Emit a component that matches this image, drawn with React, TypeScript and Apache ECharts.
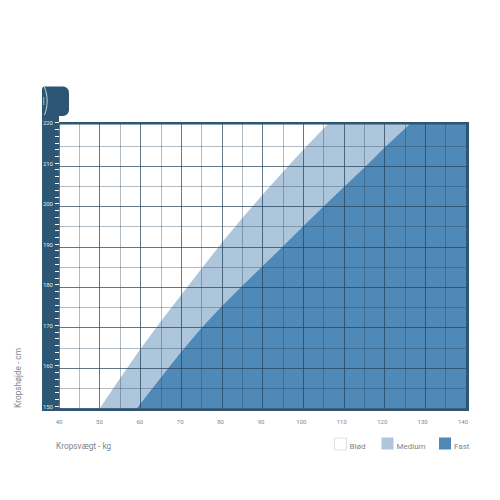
import React, { useEffect, useRef } from "react";
import * as echarts from "echarts";

const softName = "Blød";
const mediumName = "Medium";
const firmName = "Fast";
const xAxisTitle = "Kropsvægt - kg";
const yAxisTitle = "Kropshøjde - cm";

const softArea: number[][] = [[40, 220.65], [140, 220.65]];
const mediumEdge: number[][] = [
  [50, 150], [55, 157.5], [60, 164.7], [65, 171.5], [70, 178.1], [75, 184.6], [80, 191],
  [85, 197.1], [90, 202.9], [95, 208.5], [100, 214], [106.3, 220.65], [140, 220.65],
];
const firmEdge: number[][] = [
  [59.1, 150], [65, 157.6], [70, 164], [75, 169.9], [80, 175.3], [85, 180.3], [90, 185.2],
  [95, 190.1], [100, 195.1], [105, 200], [110, 204.8], [115, 209.6], [120, 214.6],
  [126.5, 220.65], [140, 220.65],
];

const DARK = "#2c5674";
const MEDIUM = "#aec6dc";
const FIRM = "#4f89b8";
const TEXT = "#7f868c";
const MAJOR = "rgba(38,66,90,0.72)";
const MINOR = "rgba(38,66,90,0.36)";

const xLineColors = [MAJOR, MINOR];
const yLineColors = [
  MAJOR, MINOR, MAJOR, MINOR, MAJOR, MINOR, MAJOR, MINOR, MAJOR, MINOR, MAJOR, MINOR, MAJOR, MINOR,
  "rgba(0,0,0,0)", "rgba(0,0,0,0)",
];

function legendAt(name: string, color: string, left: number, border?: string) {
  return {
    left,
    top: 437.5,
    padding: 0,
    itemWidth: 12,
    itemHeight: 12,
    selectedMode: false,
    formatter: "{t|{name}}",
    textStyle: {
      padding: [0, 0, 0, -2],
      rich: {
        t: { color: TEXT, fontSize: 8, fontFamily: "Roboto", lineHeight: 13, verticalAlign: "bottom" },
      },
    },
    data: [{
      name,
      icon: "rect",
      itemStyle: { color, borderColor: border ?? color, borderWidth: border ? 1 : 0 },
    }],
  };
}

function areaSeries(name: string, data: number[][], color: string, z: number) {
  return {
    name,
    type: "line",
    xAxisIndex: 0,
    yAxisIndex: 0,
    data,
    z,
    symbol: "none",
    silent: true,
    lineStyle: { width: 0 },
    itemStyle: { color },
    areaStyle: { color, opacity: 1, origin: "start" },
  };
}

export default function App() {
  const ref = useRef<HTMLDivElement>(null);
  useEffect(() => {
    const chart = echarts.init(ref.current!, undefined, { renderer: "svg" });
    chart.setOption({
      animation: false,
      backgroundColor: "#ffffff",
      grid: [
        { left: 59, right: 34, top: 123, bottom: 91.5 },
        { left: 59, right: 37, top: 122.5, bottom: 94 },
      ],
      xAxis: [
        {
          type: "value", gridIndex: 0, min: 40, max: 140, interval: 5, z: 5,
          axisLine: { show: false }, axisTick: { show: false }, axisLabel: { show: false },
          splitLine: { show: true, lineStyle: { color: xLineColors, width: 1 } },
        },
        {
          type: "value", gridIndex: 1, min: 40, max: 140, interval: 10, z: 10,
          axisLine: { show: false }, axisTick: { show: false }, splitLine: { show: false },
          axisLabel: { color: TEXT, fontSize: 6, fontFamily: "Roboto", margin: 12 },
        },
      ],
      yAxis: [
        {
          type: "value", gridIndex: 0, min: 150, max: 220.65, interval: 5, z: 5,
          axisLine: { show: false }, axisTick: { show: false }, axisLabel: { show: false },
          splitLine: { show: true, lineStyle: { color: yLineColors, width: 1 } },
        },
        {
          type: "value", gridIndex: 1, min: 150, max: 220, interval: 10, z: 10,
          axisLine: { show: false }, splitLine: { show: false },
          axisTick: { show: true, length: 4, lineStyle: { color: "#ffffff", width: 1 } },
          minorTick: { show: true, splitNumber: 6, length: 4, lineStyle: { color: "#ffffff", width: 1 } },
          axisLabel: { color: "#dfe8ee", fontSize: 6, fontFamily: "Roboto", margin: 6 },
        },
      ],
      legend: [
        legendAt(softName, "#ffffff", 334, "#dde1e4"),
        legendAt(mediumName, MEDIUM, 381.5),
        legendAt(firmName, FIRM, 439),
      ],
      series: [
        areaSeries(softName, softArea, "#ffffff", 1),
        areaSeries(mediumName, mediumEdge, MEDIUM, 2),
        areaSeries(firmName, firmEdge, FIRM, 3),
      ],
      graphic: [
        { type: "rect", z: 6, shape: { x: 42, y: 110, width: 17, height: 301 }, style: { fill: DARK } },
        { type: "rect", z: 6, shape: { x: 42, y: 86.5, width: 27, height: 29.5, r: [3, 6, 6, 3] }, style: { fill: DARK } },
        { type: "rect", z: 6, shape: { x: 59, y: 122, width: 410, height: 2.5 }, style: { fill: DARK } },
        { type: "rect", z: 6, shape: { x: 466, y: 122, width: 3, height: 289 }, style: { fill: DARK } },
        { type: "rect", z: 6, shape: { x: 42, y: 408.5, width: 427, height: 2.5 }, style: { fill: DARK } },
        {
          type: "bezierCurve", z: 7,
          shape: { x1: 44.5, y1: 87, x2: 44.5, y2: 115, cpx1: 48, cpy1: 96, cpx2: 48, cpy2: 106 },
          style: { stroke: "#eef4f7", lineWidth: 0.8, fill: "none" },
        },
        {
          type: "line", z: 7,
          shape: { x1: 43.7, y1: 97, x2: 43.7, y2: 105 },
          style: { stroke: "#7fb0bd", lineWidth: 1.2 },
        },
        {
          type: "text", z: 7, x: 56, y: 446,
          style: { text: xAxisTitle, fill: TEXT, font: "8.3px Roboto", textAlign: "left", textVerticalAlign: "middle" },
        },
        {
          type: "text", z: 7, x: 18, y: 378, rotation: Math.PI / 2,
          style: { text: yAxisTitle, fill: TEXT, font: "8.3px Roboto", textAlign: "center", textVerticalAlign: "middle" },
        },
      ],
    });
    return () => chart.dispose();
  }, []);
  return <div ref={ref} style={{ position: "absolute", left: 0, top: 0, width: 500, height: 500 }} />;
}
